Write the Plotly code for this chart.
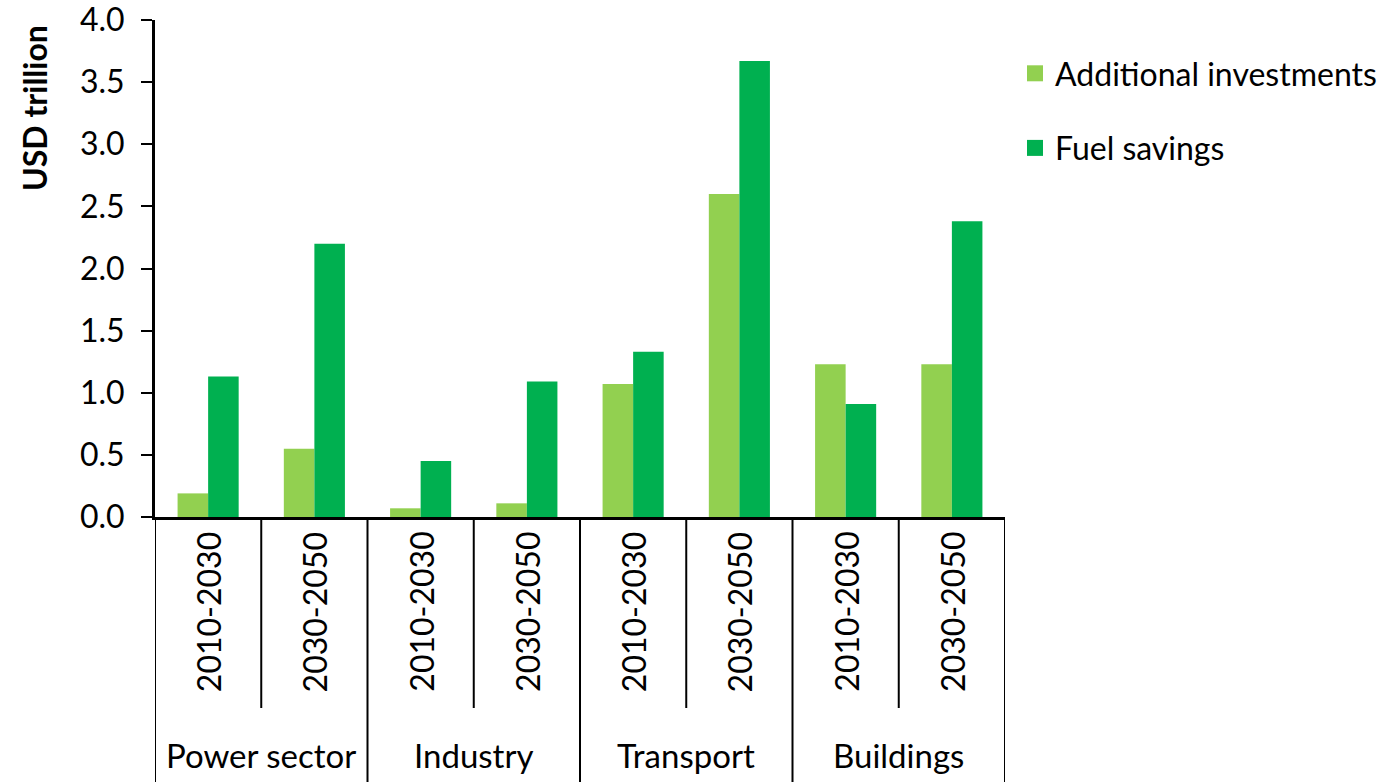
import plotly.graph_objects as go

sectors = ["Power sector", "Industry", "Transport", "Buildings"]
periods = ["2010-2030", "2030-2050"]
additional_investments = [0.19, 0.55, 0.07, 0.11, 1.07, 2.60, 1.23, 1.23]
fuel_savings = [1.13, 2.20, 0.45, 1.09, 1.33, 3.67, 0.91, 2.38]
series_names = ["Additional investments", "Fuel savings"]
series_colors = ["#92D050", "#00B050"]
y_ticks = [0.0, 0.5, 1.0, 1.5, 2.0, 2.5, 3.0, 3.5, 4.0]

FONT = "Lato"
W, H = 1385, 782
# plot area in pixels: x 155..1005, y 20..517
L, T = 155, 20
R = W - 1005
B = H - 517
plot_w = W - L - R
plot_h = H - T - B

def py(sy):
    return (517 - sy) / plot_h

def px(sx):
    return (sx - 155) / plot_w

n = len(sectors) * len(periods)
xs = list(range(n))

fig = go.Figure()
for name, vals, col in zip(series_names, [additional_investments, fuel_savings], series_colors):
    fig.add_trace(go.Bar(x=xs, y=vals, name=name, showlegend=False,
                         marker=dict(color=col, line=dict(width=0))))
# legend entries with larger square swatches
for k, (name, col) in enumerate(zip(series_names, series_colors)):
    fig.add_trace(go.Scatter(x=[None], y=[None], mode="markers", name=name,
                             legendgroup=f"g{k}",
                             marker=dict(symbol="square", size=17, color=col)))

annotations = []
shapes = []
for i in xs:
    annotations.append(dict(x=i, y=py(612), xref="x", yref="paper", text=periods[i % 2],
                            textangle=-90, showarrow=False, xanchor="center", yanchor="middle",
                            font=dict(family=FONT, size=32, color="black")))
for g, s in enumerate(sectors):
    annotations.append(dict(x=2 * g + 0.5, y=py(755), xref="x", yref="paper", text=s,
                            showarrow=False, xanchor="center", yanchor="middle",
                            font=dict(family=FONT, size=33, color="black")))
for k in range(n + 1):
    bottom = py(782) if k % 2 == 0 else py(708)
    shapes.append(dict(type="line", xref="x", yref="paper", x0=k - 0.5, x1=k - 0.5,
                       y0=0, y1=bottom, line=dict(color="black", width=2)))

annotations.append(dict(x=px(34), y=py(108), xref="paper", yref="paper",
                        text="<b>USD trillion</b>", textangle=-90, showarrow=False,
                        xanchor="center", yanchor="middle",
                        font=dict(family=FONT, size=32, color="black")))

fig.update_layout(
    width=W, height=H,
    margin=dict(l=L, r=R, t=T, b=B, autoexpand=False),
    paper_bgcolor="white", plot_bgcolor="white",
    barmode="group", bargap=0.425, bargroupgap=0,
    font=dict(family=FONT, size=32, color="black"),
    xaxis=dict(range=[-0.5, n - 0.5], showticklabels=False, ticks="", showgrid=False,
               zeroline=False, showline=True, linecolor="black", linewidth=3, fixedrange=True),
    yaxis=dict(range=[0, 4.0], tickvals=y_ticks, tickformat=".1f", ticks="outside",
               ticklen=11, tickwidth=2, tickcolor="black", showgrid=False, zeroline=False,
               showline=True, linecolor="black", linewidth=3, ticklabelstandoff=10,
               ticklabeloverflow="allow",
               tickfont=dict(family=FONT, size=32, color="black")),
    legend=dict(x=px(1015), y=py(46), xanchor="left", yanchor="top",
                font=dict(family=FONT, size=32, color="black"), tracegroupgap=30,
                itemsizing="trace", bgcolor="rgba(0,0,0,0)"),
    annotations=annotations,
    shapes=shapes,
)

fig.write_html("out.html", config={"displayModeBar": False},
               post_script="document.body.style.margin='0';document.body.style.overflow='hidden';")
